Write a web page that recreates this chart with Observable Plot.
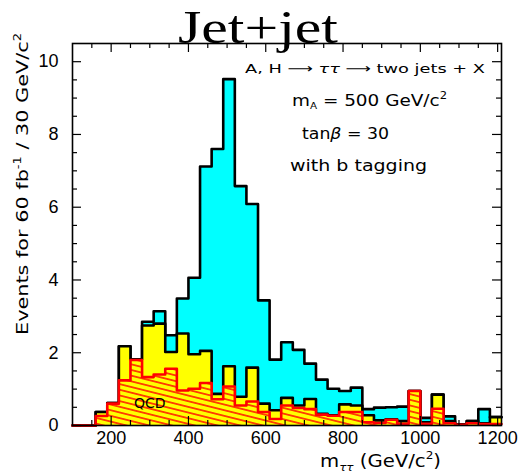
<!DOCTYPE html>
<html><head><meta charset="utf-8">
<script src="https://cdn.jsdelivr.net/npm/d3@7"></script>
<script src="https://cdn.jsdelivr.net/npm/@observablehq/plot@0.6"></script>
<style>
body{margin:0;background:#fff}
#chart{position:relative;width:523px;height:474px}
svg{overflow:visible}
</style>
</head><body><div id="chart"></div>
<script>
// Histogram: 37 bins of 30 GeV/c^2 starting at 100 GeV/c^2
const binStart = 100;
const binWidth = 30;
const qcd = [0,0,0.26,0.60,1.24,1.80,1.33,1.40,1.56,0.96,1.01,1.17,0.72,1.07,0.55,0.66,0.37,0.18,0.55,0.48,0.45,0.30,0.27,0.37,0.37,0.09,0.07,0.16,0.05,0.95,0.05,0.46,0.06,0.02,0.06,0.04,0.04];
const otherBkg = [0,0,0.11,0.02,0.94,0.02,1.42,1.40,0.46,1.57,0.95,0.88,0.15,0.56,0.24,0.93,0.23,0.24,0.21,0.07,0.28,0.02,0.01,0.21,0.18,0.19,0.07,0.01,0.07,0,0.04,0.39,0.06,0.01,0.06,0.02,0.19];
const signal = [0,0,0,0,0,0,0.10,0.34,0.46,0.96,2.10,5.07,6.73,7.89,5.79,4.50,2.84,1.39,1.53,1.53,0.97,0.94,0.73,0.37,0.49,0.17,0.35,0.33,0.40,0,0.12,0,0.13,0,0,0.39,0];
const xTickLabels = [200,400,600,800,1000,1200];
const yTickLabels = [0,2,4,6,8,10];
const titleText = "Jet+jet";
const qcdLabel = "QCD";

const W = 523, H = 474;
const mL = 72, mR = 22, mT = 43, mB = 49;
const pw = W - mL - mR, ph = H - mT - mB;
const xMax = binStart + qcd.length * binWidth;

const rows = qcd.map((q, i) => {
  const b = q + otherBkg[i];
  return {x: binStart + i * binWidth, q, b, t: b + signal[i]};
});
const steps = [...rows, {...rows[rows.length - 1], x: xMax}];

const xMajor = xTickLabels;
const xMinor = d3.range(150, xMax, 50).filter(v => !xMajor.includes(v));
const yMajor = yTickLabels;
const yMinor = d3.range(0.5, 10.5, 0.5).filter(v => !yMajor.includes(v));
const majLen = 9, minLen = 5;
const HATCH_KEY = "#fffe01";

const chart = Plot.plot({
  width: W, height: H,
  marginLeft: mL, marginRight: mR, marginTop: mT, marginBottom: mB,
  x: {domain: [binStart, xMax]},
  y: {domain: [0, 10.5]},
  style: {fontFamily: "'Liberation Sans', Arial, sans-serif", fontSize: "18px", background: "white", color: "black"},
  marks: [
    Plot.areaY(steps, {x: "x", y1: 0, y2: "t", curve: "step-after", fill: "#00ffff"}),
    Plot.lineY(steps, {x: "x", y: "t", curve: "step-after", stroke: "black", strokeWidth: 2.6}),
    Plot.areaY(steps, {x: "x", y1: 0, y2: "b", curve: "step-after", fill: "#ffff00"}),
    Plot.lineY(steps, {x: "x", y: "b", curve: "step-after", stroke: "black", strokeWidth: 2.6}),
    Plot.areaY(steps, {x: "x", y1: 0, y2: "q", curve: "step-after", fill: HATCH_KEY}),
    Plot.lineY(steps, {x: "x", y: "q", curve: "step-after", stroke: "#ff0000", strokeWidth: 2.6}),
    Plot.text([qcdLabel], {x: 300, y: 0.6, text: d => d, fontSize: 14, fill: "black", fontFamily: "'DejaVu Sans', sans-serif"}),
    // inward ticks: left / right
    Plot.tickY(yMajor, {y: d => d, insetRight: pw - majLen, stroke: "black", strokeWidth: 1.2}),
    Plot.tickY(yMinor, {y: d => d, insetRight: pw - minLen, stroke: "black", strokeWidth: 1.2}),
    Plot.tickY(yMajor, {y: d => d, insetLeft: pw - majLen, stroke: "black", strokeWidth: 1.2}),
    Plot.tickY(yMinor, {y: d => d, insetLeft: pw - minLen, stroke: "black", strokeWidth: 1.2}),
    // inward ticks: bottom / top
    Plot.tickX(xMajor, {x: d => d, insetTop: ph - majLen, stroke: "black", strokeWidth: 1.2}),
    Plot.tickX(xMinor, {x: d => d, insetTop: ph - minLen, stroke: "black", strokeWidth: 1.2}),
    Plot.tickX(xMajor, {x: d => d, insetBottom: ph - majLen, stroke: "black", strokeWidth: 1.2}),
    Plot.tickX(xMinor, {x: d => d, insetBottom: ph - minLen, stroke: "black", strokeWidth: 1.2}),
    Plot.axisX({ticks: xTickLabels, tickSize: 0, tickPadding: 6, fontSize: 18, label: null, tickFormat: d3.format("d")}),
    Plot.axisY({ticks: yTickLabels, tickSize: 0, tickPadding: 14, fontSize: 18, label: null, tickFormat: d3.format("d")}),
    Plot.frame({stroke: "black", strokeWidth: 1.6})
  ]
});
document.getElementById("chart").appendChild(chart);

const svg = d3.select(chart);
// hatch pattern for QCD
const defs = svg.insert("defs", ":first-child");
const pat = defs.append("pattern").attr("id", "qcdHatch")
  .attr("patternUnits", "userSpaceOnUse").attr("width", 20).attr("height", 5.5)
  .attr("patternTransform", "rotate(14)");
pat.append("rect").attr("width", 20).attr("height", 5.5).attr("fill", "#ffff00");
pat.append("line").attr("x1", -1).attr("x2", 21).attr("y1", 2.75).attr("y2", 2.75)
  .attr("stroke", "#ff0000").attr("stroke-width", 1.4);
svg.selectAll(`[fill="${HATCH_KEY}"]`).attr("fill", "url(#qcdHatch)");

// Title
svg.append("text").attr("x", 258).attr("y", 43).attr("text-anchor", "middle")
  .attr("font-family", "'Liberation Serif', 'Times New Roman', serif").attr("font-size", 46)
  .attr("textLength", 160).attr("lengthAdjust", "spacingAndGlyphs")
  .attr("fill", "black").text(titleText);

const sans = "'DejaVu Sans', sans-serif";
function addText(x, y, size, len, parts, rotate) {
  const t = svg.append("text").attr("x", x).attr("y", y)
    .attr("font-family", sans).attr("font-size", size).attr("fill", "black")
    .attr("text-anchor", rotate ? "middle" : "start");
  if (len) t.attr("textLength", len).attr("lengthAdjust", "spacingAndGlyphs");
  if (rotate) t.attr("transform", rotate);
  parts.forEach(p => {
    const s = t.append("tspan").text(p.s);
    if (p.size) s.attr("font-size", p.size);
    if (p.dy) s.attr("dy", p.dy);
    if (p.italic) s.attr("font-style", "italic");
  });
  return t;
}
// annotation block
addText(245, 73, 13, 240, [{s: "A, H \u27f6 "}, {s: "\u03c4\u03c4", italic: true}, {s: " \u27f6 two jets + X"}]);
addText(292, 106, 16, 155, [{s: "m"}, {s: "A", size: 9, dy: 3}, {s: " = 500 GeV/c", dy: -3}, {s: "2", size: 10, dy: -7}]);
addText(302, 139, 16, 87, [{s: "tan"}, {s: "\u03b2", italic: true}, {s: " = 30"}]);
addText(290, 171, 16, 137, [{s: "with b tagging"}]);
// axis titles
addText(320, 467, 18, 121, [{s: "m"}, {s: "\u03c4\u03c4", size: 11, dy: 4, italic: true}, {s: " (GeV/c", dy: -4}, {s: "2", size: 11, dy: -8}, {s: ")", dy: 8}]);
addText(0, 0, 16, 302, [{s: "Events for 60 fb"}, {s: "-1", size: 10, dy: -7}, {s: " / 30 GeV/c", dy: 7}, {s: "2", size: 10, dy: -7}], "translate(28,184) rotate(-90)");
</script>
</body></html>
